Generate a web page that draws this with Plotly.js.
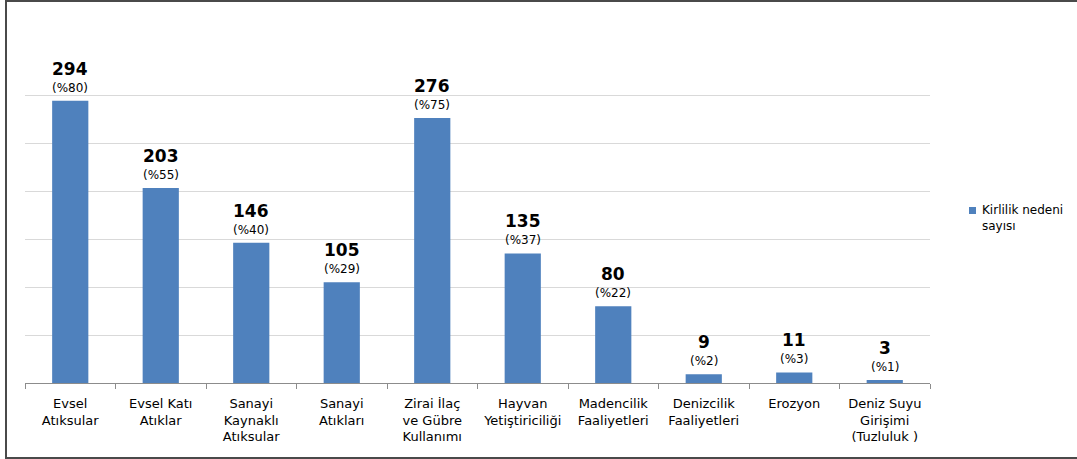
<!DOCTYPE html>
<html>
<head>
<meta charset="utf-8">
<script src="https://cdn.plot.ly/plotly-3.0.1.min.js"></script>
<style>
  html, body { margin: 0; padding: 0; background: #fff; }
  #wrap { position: relative; width: 1077px; height: 459px; }
  #chart { position: absolute; left: 0; top: 0; width: 1077px; height: 459px; }
  #frame { position: absolute; left: 5px; top: 0; width: 1080px; height: 455px;
           border-left: 2px solid #4a4a4a; border-top: 2px solid #4a4a4a; border-bottom: 2px solid #4a4a4a;
           pointer-events: none; }
</style>
</head>
<body>
<div id="wrap">
  <div id="chart"></div>
  <div id="frame"></div>
</div>
<script>
const categories = [
  "Evsel<br>Atıksular",
  "Evsel Katı<br>Atıklar",
  "Sanayi<br>Kaynaklı<br>Atıksular",
  "Sanayi<br>Atıkları",
  "Zirai İlaç<br>ve Gübre<br>Kullanımı",
  "Hayvan<br>Yetiştiriciliği",
  "Madencilik<br>Faaliyetleri",
  "Denizcilik<br>Faaliyetleri",
  "Erozyon",
  "Deniz Suyu<br>Girişimi<br>(Tuzluluk )"
];
const counts = [294, 203, 146, 105, 276, 135, 80, 9, 11, 3];
const percents = [80, 55, 40, 29, 75, 37, 22, 2, 3, 1];
const seriesName = "Kirlilik nedeni<br>sayısı";

const font = "DejaVu Sans, Verdana, sans-serif";
const barColor = "#4F81BD";

const L = 25, R = 930, T = 47, B = 383;
const px = v => (v - L) / (R - L);
const py = v => (B - v) / (B - T);

const annotations = [];
categories.forEach((c, i) => {
  annotations.push({
    x: c, y: counts[i], xref: "x", yref: "y",
    text: "(%" + percents[i] + ")", showarrow: false,
    yanchor: "bottom", yshift: 4,
    font: { family: font, size: 12, color: "#000" }
  });
  annotations.push({
    x: c, y: counts[i], xref: "x", yref: "y",
    text: "<b>" + counts[i] + "</b>", showarrow: false,
    yanchor: "bottom", yshift: 20,
    font: { family: font, size: 17, color: "#000" }
  });
});

// legend text
annotations.push({
  xref: "paper", yref: "paper",
  x: px(980), y: py(218),
  xanchor: "left", yanchor: "middle", align: "left",
  text: seriesName, showarrow: false,
  font: { family: font, size: 12, color: "#000" }
});

const shapes = [{
  type: "rect", xref: "paper", yref: "paper",
  x0: px(969), x1: px(976),
  y0: py(214), y1: py(207),
  fillcolor: barColor, line: { width: 0 }
}];

const trace = {
  type: "bar",
  x: categories,
  y: counts,
  name: seriesName,
  marker: { color: barColor },
  width: 0.4,
  hoverinfo: "x+y"
};

const layout = {
  width: 1077, height: 459,
  margin: { l: L, r: 1077 - R, t: T, b: 459 - B },
  paper_bgcolor: "#fff", plot_bgcolor: "#fff",
  showlegend: false,
  font: { family: font, size: 12, color: "#000" },
  xaxis: {
    type: "category",
    showline: true, linecolor: "#8c8c8c", linewidth: 1,
    ticks: "outside", ticklen: 5, tickcolor: "#8c8c8c", tickson: "boundaries",
    ticklabelstandoff: 8,
    tickfont: { family: font, size: 13, color: "#000" },
    showgrid: false, zeroline: false
  },
  yaxis: {
    range: [0, 350], dtick: 50,
    showticklabels: false, ticks: "",
    showgrid: true, gridcolor: "#d9d9d9", gridwidth: 1,
    zeroline: false, showline: false
  },
  annotations: annotations,
  shapes: shapes
};

Plotly.newPlot("chart", [trace], layout, { displayModeBar: false, staticPlot: true });
</script>
</body>
</html>
